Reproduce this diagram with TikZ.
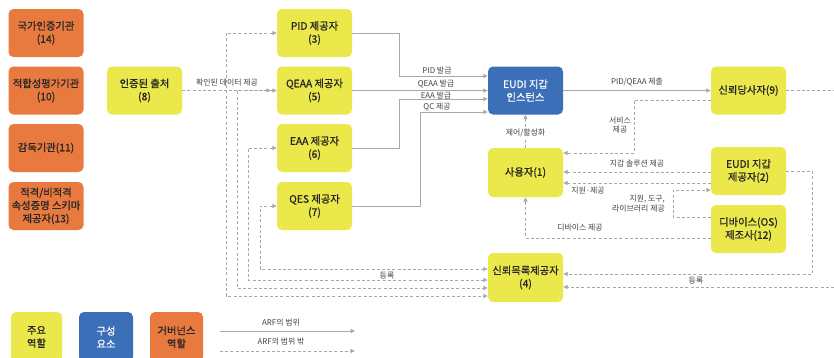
\documentclass[tikz,border=0pt]{standalone}
\usepackage{fontspec}
\setmainfont{Noto Sans CJK KR}
\newfontfamily\boxfont[FakeBold=0.9]{Noto Sans CJK KR}
\usetikzlibrary{arrows.meta,calc}
\definecolor{ylw}{HTML}{EBE84B}
\definecolor{org}{HTML}{E8793F}
\definecolor{blu}{HTML}{3B70B9}
\definecolor{lngray}{HTML}{A8A8A8}
\definecolor{txtgray}{HTML}{444444}
\tikzset{
  box/.style={rectangle, rounded corners=5pt, minimum width=75pt, minimum height=48pt, inner sep=1pt, align=center, font=\boxfont\fontsize{10.3}{13}\selectfont, text=black!85},
  yb/.style={box, fill=ylw},
  ob/.style={box, fill=org},
  bb/.style={box, fill=blu, text=white},
  sol/.style={draw=lngray, line width=0.9pt},
  dsh/.style={draw=lngray, line width=0.9pt, dash pattern=on 3pt off 2.2pt},
  lbl/.style={font=\fontsize{7.9}{9.2}\selectfont, text=txtgray, inner sep=1pt},
  >={Triangle[length=4.5pt,width=4pt]}
}
\begin{document}
\begin{tikzpicture}[x=1pt,y=-1pt]
\clip (0,0) rectangle (834,357);
\fill[white] (0,0) rectangle (834,357);
% governance
\node[ob] (n14) at (46,33) {국가인증기관\\(14)};
\node[ob] (n10) at (46,90.5) {적합성평가기관\\(10)};
\node[ob] (n11) at (46,148) {감독기관(11)};
\node[ob] (n13) at (46,206) {적격/비적격\\속성증명 스키마\\제공자(13)};
% main roles
\node[yb] (n8) at (144.5,90.5) {인증된 출처\\(8)};
\node[yb] (n3) at (314.5,33) {PID 제공자\\(3)};
\node[yb] (n5) at (314.5,90.5) {QEAA 제공자\\(5)};
\node[yb] (n6) at (314.5,148) {EAA 제공자\\(6)};
\node[yb] (n7) at (314.5,206) {QES 제공자\\(7)};
\node[bb] (w) at (525.5,90.5) {EUDI 지갑\\인스턴스};
\node[yb, minimum height=49pt] (n1) at (525.5,172.5) {사용자(1)};
\node[yb, minimum height=49pt] (n4) at (525.5,277.5) {신뢰목록제공자\\(4)};
\node[yb] (n9) at (748.5,90.5) {신뢰당사자(9)};
\node[yb] (n2) at (748.5,171) {EUDI 지갑\\제공자(2)};
\node[yb] (n12) at (748.5,229) {디바이스(OS)\\제조사(12)};
% legend
\node[yb, minimum width=51pt, minimum height=50pt] (l1) at (36.5,337) {주요\\역할};
\node[bb, minimum width=54pt, minimum height=50pt] (l2) at (106,337) {구성\\요소};
\node[ob, minimum width=53pt, minimum height=50pt] (l3) at (176.5,337) {거버넌스\\역할};
\coordinate (la) at (220,331); \coordinate (lb) at (355,331);
\coordinate (lc) at (220,351); \coordinate (ld) at (355,351);
\draw[sol,->] (la) -- (lb);
\draw[dsh,->] (lc) -- (ld);
\node[lbl] (t20) at (281,323) {ARF의 범위};
\node[lbl] (t21) at (281,342) {ARF의 범위 밖};
% solid issuance lines
\draw[sol,->] (n3.east) -- (399,33) -- (399,76) -- (w.west |- 0,76);
\draw[sol,->] (n5.east) -- (w.west);
\draw[sol,->] (n6.east) -- (399,148) -- (399,99) -- (w.west |- 0,99);
\draw[sol,->] (n7.east) -- (420,206) -- (420,112) -- (w.west |- 0,112);
\draw[sol,->] (w.east) -- (n9.west);
\node[lbl] (t1) at (437,70) {PID 발급};
\node[lbl] (t2) at (436,84) {QEAA 발급};
\node[lbl] (t3) at (436,95) {EAA 발급};
\node[lbl] (t4) at (437,107) {QC 제공};
\node[lbl] (t5) at (637,82) {PID/QEAA 제출};
% data source
\draw[dsh,->] (n8.east) -- ($(n5.west)+(-6,0)$);
\node[lbl] (t6) at (227,83) {확인된 데이터 제공};
% registration loops to trust list provider
\draw[dsh,<->] (n3.west) -- (226,33) -- (226,296) -- (n4.west |- 0,296);
\draw[dsh,<->] (n5.west) -- (237,90.5) -- (237,288) -- (n4.west |- 0,288);
\draw[dsh,<->] (n6.west) -- (248,148) -- (248,280) -- (n4.west |- 0,280);
\draw[dsh,<->] (n7.west) -- (260,206) -- (260,269) -- (n4.west |- 0,269);
\node[lbl] (t7) at (387,275.5) {등록};
% right side
\coordinate (re1) at (834,90.5);
\coordinate (re2) at (834,287);
\draw[dsh] (n9.east) -- (re1);
\draw[dsh,->] (re2) -- (n4.east |- re2);
\node[lbl] (t8) at (696,281) {등록};
\draw[dsh,->] (n2.east) -- (812,171) -- (812,274) -- (n4.east |- 0,274);
% user relations
\draw[dsh,->] (n9.west |- 0,100) -- (634,100) -- (634,153) -- (n1.east |- 0,153);
\node[lbl, align=center] (t9) at (620,125) {서비스\\제공};
\draw[dsh,->] (n2.west |- 0,172) -- (n1.east |- 0,172);
\node[lbl] (t10) at (637,164) {지갑 솔루션 제공};
\draw[dsh,->] (n2.west |- 0,183) -- (n1.east |- 0,183);
\node[lbl] (t11) at (588,191) {지원·제공};
\draw[dsh,->] (n12.west |- 0,217) -- (673,217) -- (673,190) -- (n2.west |- 0,190);
\node[lbl, align=right, anchor=east] (t12) at (666,203.5) {지원, 도구,\\라이브러리 제공};
\draw[dsh,->] (n12.west |- 0,238) -- (525.5,238) -- (n1.south);
\node[lbl] (t13) at (580,228) {디바이스 제공};
\draw[dsh,->] (n1.north) -- (w.south);
\node[lbl, fill=white] (t14) at (525.5,133) {제어/활성화};
\end{tikzpicture}
\end{document}
